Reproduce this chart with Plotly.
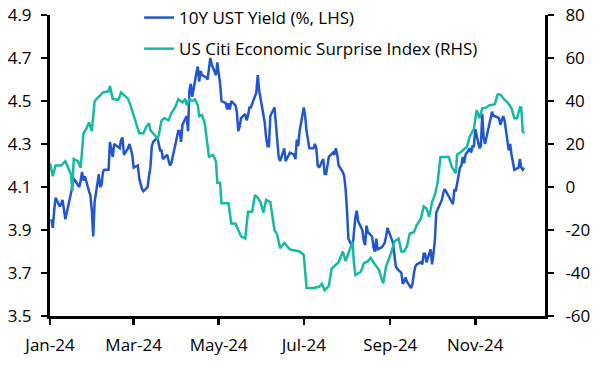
import plotly.graph_objects as go

# ---- data ----
ust_dates = [
    "01-02", "01-03", "01-04", "01-05", "01-08", "01-09", "01-10", "01-11", "01-12", "01-16", "01-17",
    "01-18", "01-19", "01-22", "01-23", "01-24", "01-25", "01-26", "01-29", "01-30", "01-31",
    "02-01", "02-02", "02-05", "02-06", "02-07", "02-08", "02-09", "02-12", "02-13", "02-14",
    "02-15", "02-16", "02-20", "02-21", "02-22", "02-23", "02-26", "02-27", "02-28", "02-29",
    "03-01", "03-04", "03-05", "03-06", "03-07", "03-08", "03-11", "03-12", "03-13", "03-14",
    "03-15", "03-18", "03-19", "03-20", "03-21", "03-22", "03-25", "03-26", "03-27", "03-28",
    "04-01", "04-02", "04-03", "04-04", "04-05", "04-08", "04-09", "04-10", "04-11", "04-12",
    "04-15", "04-16", "04-17", "04-18", "04-19", "04-22", "04-23", "04-24", "04-25", "04-26",
    "04-29", "04-30",
    "05-01", "05-02", "05-03", "05-06", "05-07", "05-08", "05-09", "05-10", "05-13", "05-14",
    "05-15", "05-16", "05-17", "05-20", "05-21", "05-22", "05-23", "05-24", "05-28", "05-29",
    "05-30", "05-31",
    "06-03", "06-04", "06-05", "06-06", "06-07", "06-10", "06-11", "06-12", "06-13", "06-14",
    "06-17", "06-18", "06-20", "06-21", "06-24", "06-25", "06-26", "06-27", "06-28",
    "07-01", "07-02", "07-03", "07-05", "07-08", "07-09", "07-10", "07-11", "07-12", "07-15",
    "07-16", "07-17", "07-18", "07-19", "07-22", "07-23", "07-24", "07-25", "07-26", "07-29",
    "07-30", "07-31",
    "08-01", "08-02", "08-05", "08-06", "08-07", "08-08", "08-09", "08-12", "08-13", "08-14",
    "08-15", "08-16", "08-19", "08-20", "08-21", "08-22", "08-23", "08-26", "08-27", "08-28",
    "08-29", "08-30",
    "09-03", "09-04", "09-05", "09-06", "09-09", "09-10", "09-11", "09-12", "09-13", "09-16",
    "09-17", "09-18", "09-19", "09-20", "09-23", "09-24", "09-25", "09-26", "09-27", "09-30",
    "10-01", "10-02", "10-03", "10-04", "10-07", "10-08", "10-09", "10-10", "10-11", "10-15",
    "10-16", "10-17", "10-18", "10-21", "10-22", "10-23", "10-24", "10-25", "10-28", "10-29",
    "10-30", "10-31",
    "11-01", "11-04", "11-05", "11-06", "11-07", "11-08", "11-12", "11-13", "11-14", "11-15",
    "11-18", "11-19", "11-20", "11-21", "11-22", "11-25", "11-26", "11-27", "11-29",
    "12-02", "12-03", "12-04", "12-05", "12-06",
]
ust_yield = [
    3.95, 3.91, 3.99, 4.05, 4.01, 4.02, 4.04, 3.98, 3.95, 4.07, 4.10,
    4.14, 4.13, 4.10, 4.13, 4.17, 4.13, 4.15, 4.08, 4.06, 3.99,
    3.87, 4.03, 4.16, 4.10, 4.11, 4.17, 4.18, 4.18, 4.31, 4.27,
    4.24, 4.30, 4.28, 4.32, 4.33, 4.25, 4.28, 4.30, 4.27, 4.25,
    4.19, 4.20, 4.14, 4.11, 4.09, 4.08, 4.10, 4.15, 4.19, 4.29,
    4.31, 4.33, 4.30, 4.27, 4.27, 4.23, 4.25, 4.23, 4.20, 4.21,
    4.33, 4.36, 4.36, 4.31, 4.39, 4.43, 4.36, 4.55, 4.58, 4.52,
    4.63, 4.66, 4.59, 4.64, 4.62, 4.61, 4.60, 4.65, 4.70, 4.67,
    4.62, 4.68,
    4.63, 4.58, 4.50, 4.49, 4.46, 4.49, 4.46, 4.50, 4.48, 4.45,
    4.36, 4.38, 4.42, 4.44, 4.41, 4.43, 4.47, 4.47, 4.54, 4.62,
    4.55, 4.51,
    4.40, 4.33, 4.29, 4.29, 4.43, 4.47, 4.40, 4.31, 4.24, 4.22,
    4.28, 4.22, 4.25, 4.26, 4.25, 4.23, 4.32, 4.29, 4.36,
    4.47, 4.43, 4.36, 4.28, 4.28, 4.30, 4.28, 4.20, 4.19, 4.23,
    4.16, 4.16, 4.20, 4.24, 4.26, 4.25, 4.28, 4.25, 4.20, 4.17,
    4.15, 4.09,
    3.99, 3.86, 3.82, 3.90, 3.96, 3.99, 3.94, 3.90, 3.85, 3.83,
    3.92, 3.89, 3.87, 3.82, 3.80, 3.86, 3.81, 3.82, 3.83, 3.84,
    3.87, 3.91,
    3.84, 3.77, 3.73, 3.72, 3.70, 3.65, 3.66, 3.68, 3.66, 3.63,
    3.65, 3.70, 3.73, 3.74, 3.75, 3.74, 3.79, 3.79, 3.75, 3.81,
    3.74, 3.79, 3.85, 3.98, 4.03, 4.04, 4.07, 4.09, 4.08, 4.03,
    4.02, 4.09, 4.08, 4.19, 4.20, 4.24, 4.21, 4.25, 4.28, 4.26,
    4.29, 4.29,
    4.37, 4.28, 4.29, 4.44, 4.33, 4.30, 4.43, 4.45, 4.43, 4.43,
    4.42, 4.39, 4.41, 4.43, 4.41, 4.27, 4.30, 4.25, 4.18,
    4.19, 4.23, 4.19, 4.18, 4.19,
]

cesi_dates = [
    "01-01", "01-03", "01-05", "01-09", "01-12", "01-14", "01-16", "01-17", "01-18", "01-21",
    "01-23", "01-25", "01-27", "01-29", "01-31", "02-02", "02-05", "02-08", "02-12", "02-13",
    "02-15", "02-19", "02-21", "02-24", "02-26", "02-28", "03-01", "03-03", "03-05", "03-08",
    "03-10", "03-12", "03-13", "03-16", "03-18", "03-19", "03-21", "03-23", "03-26", "03-28",
    "03-31", "04-02", "04-05", "04-07", "04-08", "04-10", "04-12", "04-14", "04-16", "04-17",
    "04-19", "04-21", "04-22", "04-23", "04-24", "04-27", "04-29", "04-30", "05-02", "05-03",
    "05-08", "05-10", "05-13", "05-15", "05-17", "05-20", "05-22", "05-25", "05-27", "05-29",
    "05-31", "06-02", "06-04", "06-07", "06-10", "06-12", "06-14", "06-17", "06-21", "06-28",
    "07-01", "07-03", "07-08", "07-12", "07-14", "07-16", "07-19", "07-20", "07-21", "07-26",
    "07-29", "07-31", "08-02", "08-04", "08-05", "08-06", "08-07", "08-11", "08-13", "08-16",
    "08-18", "08-21", "08-24", "08-26", "08-27", "08-29", "09-02", "09-04", "09-07", "09-09",
    "09-11", "09-13", "09-15", "09-18", "09-20", "09-23", "09-25", "09-27", "09-29", "10-01",
    "10-03", "10-05", "10-07", "10-09", "10-13", "10-15", "10-18", "10-19", "10-22", "10-26",
    "10-28", "10-31", "11-02", "11-04", "11-06", "11-09", "11-11", "11-15", "11-17", "11-19",
    "11-22", "11-24", "11-27", "11-29", "12-01", "12-03", "12-04", "12-05", "12-06",
]
cesi_values = [
    11, 5, 10, 10, 12, 9, 6, -2, 13, 12,
    9, 25, 27, 30, 26, 40, 42, 44, 44.5, 47,
    41, 40.5, 44, 42, 41, 37.5, 33.5, 29.6, 25, 25,
    28, 29.6, 26.4, 24.2, 22.6, 24, 31, 32, 31, 34.3,
    37.4, 40.8, 39.3, 41, 38, 40.8, 40, 40.8, 38, 33,
    33.5, 29.6, 24.2, 20.3, 14.1, 14.8, 12, 2, 2, -7.6,
    -7.6, -17, -17, -20, -23, -24, -11.5, -11.5, -3.7, -5,
    -7, -12, -6, -7, -20, -22.3, -28.5, -26, -29, -30,
    -31.6, -47, -47, -46.4, -45, -48, -46, -41.7, -38, -35,
    -30, -34.5, -31, -28, -25.4, -35.5, -41, -39.4, -35.5, -34.5,
    -33, -36, -38.6, -43.3, -44.8, -37, -30, -25.4, -24, -30,
    -30, -27.6, -21.6, -21, -17.7, -14.6, -9, -10, -13.8, -7,
    -3.7, 2, 14, 14, 14, 9.5, 6.4, 15, 16.4, 18.7,
    23.4, 27, 35.8, 32, 36.6, 37, 38, 38.5, 43, 43,
    40.5, 39.5, 36.6, 32, 32, 37, 37, 26, 25,
]

tick_dates = ["2024-01-01", "2024-03-01", "2024-05-01", "2024-07-01", "2024-09-01", "2024-11-01"]
tick_labels = ["Jan-24", "Mar-24", "May-24", "Jul-24", "Sep-24", "Nov-24"]
rhs_ticks = [-60, -40, -20, 0, 20, 40, 60, 80]
rhs_tick_labels = ["-60", "-40", "-20", "0", "20", "40", "60", "80"]

BLUE = "#2156CF"
TEAL = "#17B9A4"
FONT = "Open Sans"
FS = 17

# figure geometry: paper area starts at the very top so the legend sits inside it
W, H = 601, 367
M_L, M_R, M_T, M_B = 50, 56, 0, 51
PLOT_TOP_PX = 15
paper_h = H - M_T - M_B
y_dom_top = (paper_h - PLOT_TOP_PX) / paper_h

fig = go.Figure()
fig.add_trace(go.Scatter(
    x=["2024-" + d for d in ust_dates], y=ust_yield,
    name="10Y UST Yield (%, LHS)", mode="lines",
    line=dict(color=BLUE, width=2.5), legendgroup="a",
))
fig.add_trace(go.Scatter(
    x=["2024-" + d for d in cesi_dates], y=cesi_values,
    name="US Citi Economic Surprise Index (RHS)", mode="lines",
    line=dict(color=TEAL, width=2.5), yaxis="y2", legendgroup="b",
))

axis_common = dict(
    showline=True, linecolor="black", linewidth=3,
    ticks="outside", ticklen=6, tickwidth=2.5, tickcolor="black",
    showgrid=False, zeroline=False, automargin=False,
    tickfont=dict(family=FONT, size=FS, color="black"),
)

fig.update_layout(
    width=W, height=H,
    margin=dict(l=M_L, r=M_R, t=M_T, b=M_B),
    paper_bgcolor="white", plot_bgcolor="rgba(0,0,0,0)",
    font=dict(family=FONT, size=FS, color="black"),
    xaxis=dict(type="date", range=["2024-01-01", "2024-12-21"],
               tickvals=tick_dates, ticktext=tick_labels,
               ticklabelstandoff=6, **axis_common),
    yaxis=dict(range=[3.5, 4.9], tick0=3.5, dtick=0.2, tickformat=".1f",
               domain=[0, y_dom_top], ticklabelstandoff=6, **axis_common),
    yaxis2=dict(range=[-60, 80], tickvals=rhs_ticks, ticktext=rhs_tick_labels,
                overlaying="y", side="right", domain=[0, y_dom_top],
                anchor="x", ticklabelstandoff=8, **axis_common),
    legend=dict(x=0.18, y=1.0, xanchor="left", yanchor="top",
                bgcolor="rgba(0,0,0,0)", tracegroupgap=6,
                font=dict(family=FONT, size=FS, color="black")),
    showlegend=True,
)

fig.write_html(
    "out.html",
    config={"displayModeBar": False, "staticPlot": True},
    post_script="document.body.style.margin='0';document.body.style.overflow='hidden';",
)
